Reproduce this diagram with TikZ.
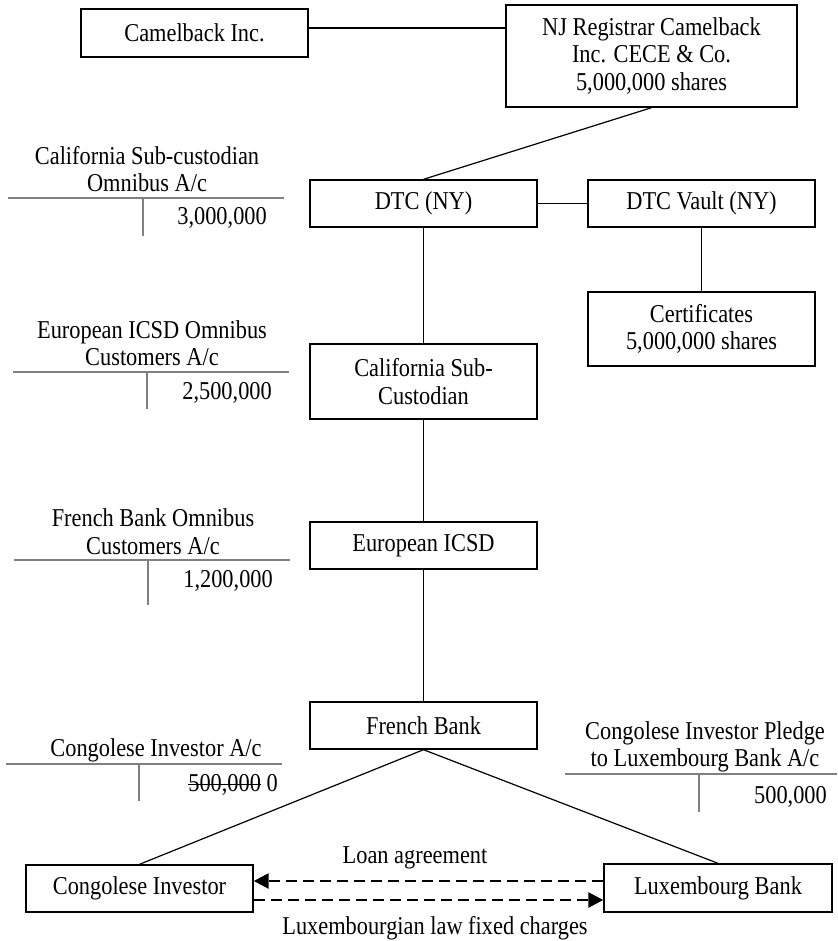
\documentclass[tikz,border=0pt]{standalone}
\usepackage{fontspec}
\setmainfont{Liberation Serif}[FakeStretch=0.87]
\usetikzlibrary{arrows.meta}
\newcommand{\diagfont}{\fontsize{25.7}{27.5}\selectfont}
\newcommand{\strikeit}[1]{\setbox0=\hbox{#1}\rlap{\raisebox{0.26em}{\rule{\wd0}{1.2pt}}}\box0\relax}
\begin{document}
\begin{tikzpicture}[x=1pt,y=-1pt,
  font=\diagfont,
  box/.style={draw=black, line width=1.4pt, rectangle, inner sep=0pt, align=center, minimum width=227pt},
  conn/.style={draw=black, line width=1.2pt},
  tline/.style={draw=black!50, line width=1.3pt},
  lbl/.style={inner sep=0pt, align=center},
  amt/.style={inner sep=0pt, anchor=east},
  dasharrow/.style={draw=black, line width=2.6pt, dash pattern=on 11pt off 6pt, -{Triangle[length=15pt,width=15pt]}}
]
\useasboundingbox (0,0) rectangle (837,941);

% boxes
\node[box, minimum height=48pt] (cam) at (194.5,33) {Camelback Inc.};
\node[box, minimum width=291pt, minimum height=102pt] (nj) at (651.5,56) {NJ Registrar Camelback\\Inc. CECE \& Co.\\5,000,000 shares};
\node[box, minimum height=47pt] (dtc) at (423.5,203.5) {DTC (NY)};
\node[box, minimum height=47pt] (vault) at (701.5,203.5) {DTC Vault (NY)};
\node[box, minimum height=74pt] (cert) at (701.5,329) {Certificates\\5,000,000 shares};
\node[box, minimum height=75pt] (cal) at (423.5,381.5) {California Sub-\\Custodian};
\node[box, minimum height=47pt] (eur) at (423.5,545.5) {European ICSD};
\node[box, minimum height=47pt] (fr) at (423.5,725.5) {French Bank};
\node[box, minimum height=47pt] (cong) at (139.5,888.5) {Congolese Investor};
\node[box, minimum width=228pt, minimum height=48pt] (lux) at (718,888) {Luxembourg Bank};

% connectors
\coordinate (cj) at (0,28);
\draw[conn] (cam.east |- cj) -- (nj.west |- cj);
\draw[conn] (nj.south) -- (dtc.north);
\draw[conn] (dtc.east) -- (vault.west);
\draw[conn] (vault.south) -- (cert.north);
\draw[conn] (dtc.south) -- (cal.north);
\draw[conn] (cal.south) -- (eur.north);
\draw[conn] (eur.south) -- (fr.north);
\draw[conn] (fr.south) -- (cong.north);
\draw[conn] (fr.south) -- (lux.north);

\coordinate (d1) at (0,881);
\coordinate (d2) at (0,900);
\draw[dasharrow] (lux.west |- d1) -- (cong.east |- d1);
\draw[dasharrow] (cong.east |- d2) -- (lux.west |- d2);
\node[lbl] (loan) at (415,858) {Loan agreement};
\node[lbl] (luxlaw) at (435,928) {Luxembourgian law fixed charges};

% T-account 1
\node[lbl] (t1) at (147,169) {California Sub-custodian\\Omnibus A/c};
\draw[tline] (8,198) -- (284,198);
\draw[tline] (143,198) -- (143,236);
\node[amt] (a1) at (267,218) {3,000,000};

% T-account 2
\node[lbl] (t2) at (152,343) {European ICSD Omnibus\\Customers A/c};
\draw[tline] (13,372) -- (289,372);
\draw[tline] (147,372) -- (147,409);
\node[amt] (a2) at (272,393) {2,500,000};

% T-account 3
\node[lbl] (t3) at (153,531.5) {French Bank Omnibus\\Customers A/c};
\draw[tline] (14,560) -- (290,560);
\draw[tline] (148,560) -- (148,605);
\node[amt] (a3) at (273,581) {1,200,000};

% T-account 4
\node[lbl] (t4) at (156,750) {Congolese Investor A/c};
\draw[tline] (6,764) -- (282,764);
\draw[tline] (139,764) -- (139,801);
\node[amt] (a4) at (278,785) {\strikeit{500,000} 0};

% T-account 5
\node[lbl] (t5) at (705,747) {Congolese Investor Pledge\\to Luxembourg Bank A/c};
\draw[tline] (565,774) -- (837,774);
\draw[tline] (699,774) -- (699,812);
\node[amt] (a5) at (827,797) {500,000};
\end{tikzpicture}
\end{document}
